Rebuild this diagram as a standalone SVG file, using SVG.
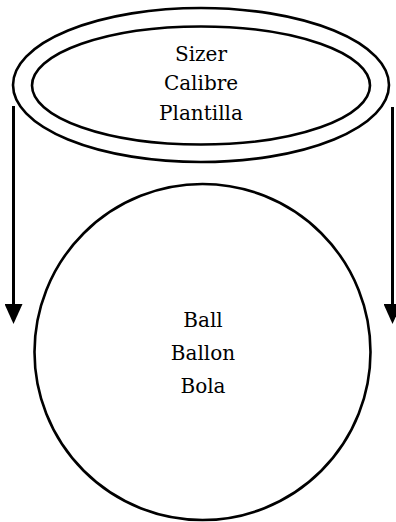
<svg xmlns="http://www.w3.org/2000/svg" width="396" height="522" viewBox="0 0 396 522">
<style>
.shape{fill:none;stroke:#000;stroke-width:2.6}
.lbl{font-family:'DejaVu Serif',serif;font-size:20px;fill:#000;text-anchor:middle}
.conn{stroke:#000;stroke-width:3;fill:none}
</style>
<defs>
<marker id="ah" markerUnits="userSpaceOnUse" markerWidth="20" markerHeight="18" refX="1" refY="9" orient="auto" viewBox="0 0 20 18">
<path d="M0,0 L20,9 L0,18 Z" fill="#000"/>
</marker>
</defs>
<rect width="396" height="522" fill="#fff"/>
<g id="sizer">
<ellipse class="shape" cx="201" cy="85" rx="188" ry="77"/>
<ellipse class="shape" cx="201" cy="85.5" rx="169" ry="59"/>
<text class="lbl" x="201" y="60.5">Sizer</text>
<text class="lbl" x="201" y="90">Calibre</text>
<text class="lbl" x="201" y="120">Plantilla</text>
</g>
<g id="ball">
<circle class="shape" cx="202.5" cy="352" r="168"/>
<text class="lbl" x="203" y="327">Ball</text>
<text class="lbl" x="203" y="359.5">Ballon</text>
<text class="lbl" x="203" y="393">Bola</text>
</g>
<g id="connectors">
<path class="conn" d="M13.5,106 L13.5,305" marker-end="url(#ah)"/>
<path class="conn" d="M392.5,107 L392.5,305" marker-end="url(#ah)"/>
</g>
</svg>
